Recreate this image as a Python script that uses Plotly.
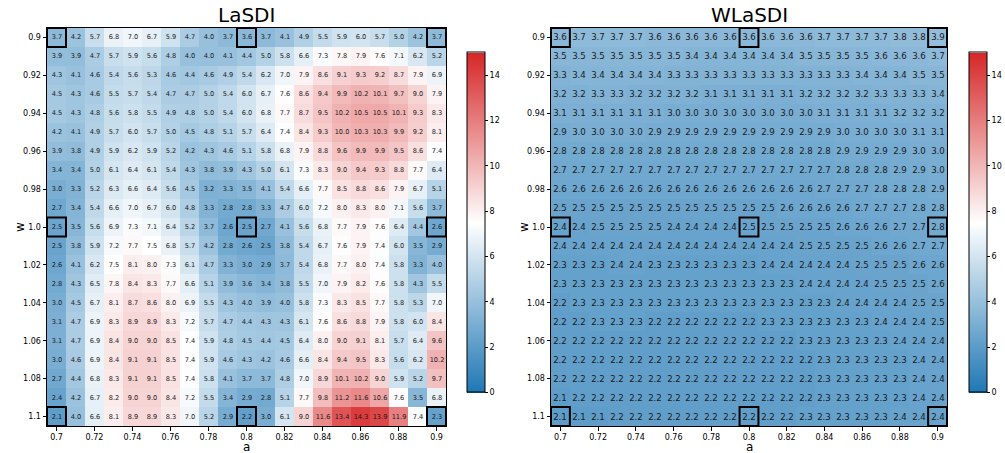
import plotly.graph_objects as go

a_values = [0.70, 0.71, 0.72, 0.73, 0.74, 0.75, 0.76, 0.77, 0.78, 0.79, 0.80,
            0.81, 0.82, 0.83, 0.84, 0.85, 0.86, 0.87, 0.88, 0.89, 0.90]
w_values = [0.90, 0.91, 0.92, 0.93, 0.94, 0.95, 0.96, 0.97, 0.98, 0.99, 1.00,
            1.01, 1.02, 1.03, 1.04, 1.05, 1.06, 1.07, 1.08, 1.09, 1.10]

x_tickvals = [0.70, 0.72, 0.74, 0.76, 0.78, 0.80, 0.82, 0.84, 0.86, 0.88, 0.90]
x_ticktext = ["0.7", "0.72", "0.74", "0.76", "0.78", "0.8", "0.82", "0.84", "0.86", "0.88", "0.9"]
y_tickvals = [0.90, 0.92, 0.94, 0.96, 0.98, 1.00, 1.02, 1.04, 1.06, 1.08, 1.10]
y_ticktext = ["0.9", "0.92", "0.94", "0.96", "0.98", "1.0", "1.02", "1.04", "1.06", "1.08", "1.1"]
cbar_ticks = [0, 2, 4, 6, 8, 10, 12, 14]

highlight_a = [0.70, 0.80, 0.90]
highlight_w = [0.90, 1.00, 1.10]

lasdi = [
    [3.7, 4.2, 5.7, 6.8, 7.0, 6.7, 5.9, 4.7, 4.0, 3.7, 3.6, 3.7, 4.1, 4.9, 5.5, 5.9, 6.0, 5.7, 5.0, 4.2, 3.7],
    [3.9, 3.9, 4.7, 5.7, 5.9, 5.6, 4.8, 4.0, 4.0, 4.1, 4.4, 5.0, 5.8, 6.6, 7.3, 7.8, 7.9, 7.6, 7.1, 6.2, 5.2],
    [4.3, 4.1, 4.6, 5.4, 5.6, 5.3, 4.6, 4.4, 4.6, 4.9, 5.4, 6.2, 7.0, 7.9, 8.6, 9.1, 9.3, 9.2, 8.7, 7.9, 6.9],
    [4.5, 4.3, 4.6, 5.5, 5.7, 5.4, 4.7, 4.7, 5.0, 5.4, 6.0, 6.7, 7.6, 8.6, 9.4, 9.9, 10.2, 10.1, 9.7, 9.0, 7.9],
    [4.5, 4.3, 4.8, 5.6, 5.8, 5.5, 4.9, 4.8, 5.0, 5.4, 6.0, 6.8, 7.7, 8.7, 9.5, 10.2, 10.5, 10.5, 10.1, 9.3, 8.3],
    [4.2, 4.1, 4.9, 5.7, 6.0, 5.7, 5.0, 4.5, 4.8, 5.1, 5.7, 6.4, 7.4, 8.4, 9.3, 10.0, 10.3, 10.3, 9.9, 9.2, 8.1],
    [3.9, 3.8, 4.9, 5.9, 6.2, 5.9, 5.2, 4.2, 4.3, 4.6, 5.1, 5.8, 6.8, 7.9, 8.8, 9.6, 9.9, 9.9, 9.5, 8.6, 7.4],
    [3.4, 3.4, 5.0, 6.1, 6.4, 6.1, 5.4, 4.3, 3.8, 3.9, 4.3, 5.0, 6.1, 7.3, 8.3, 9.0, 9.4, 9.3, 8.8, 7.7, 6.4],
    [3.0, 3.3, 5.2, 6.3, 6.6, 6.4, 5.6, 4.5, 3.2, 3.3, 3.5, 4.1, 5.4, 6.6, 7.7, 8.5, 8.8, 8.6, 7.9, 6.7, 5.1],
    [2.7, 3.4, 5.4, 6.6, 7.0, 6.7, 6.0, 4.8, 3.3, 2.8, 2.8, 3.3, 4.7, 6.0, 7.2, 8.0, 8.3, 8.0, 7.1, 5.6, 3.7],
    [2.5, 3.5, 5.6, 6.9, 7.3, 7.1, 6.4, 5.2, 3.7, 2.6, 2.5, 2.7, 4.1, 5.6, 6.8, 7.7, 7.9, 7.6, 6.4, 4.4, 2.6],
    [2.5, 3.8, 5.9, 7.2, 7.7, 7.5, 6.8, 5.7, 4.2, 2.8, 2.6, 2.5, 3.8, 5.4, 6.7, 7.6, 7.9, 7.4, 6.0, 3.5, 2.9],
    [2.6, 4.1, 6.2, 7.5, 8.1, 8.0, 7.3, 6.1, 4.7, 3.3, 3.0, 2.9, 3.7, 5.4, 6.8, 7.7, 8.0, 7.4, 5.8, 3.3, 4.0],
    [2.8, 4.3, 6.5, 7.8, 8.4, 8.3, 7.7, 6.6, 5.1, 3.9, 3.6, 3.4, 3.8, 5.5, 7.0, 7.9, 8.2, 7.6, 5.8, 4.3, 5.5],
    [3.0, 4.5, 6.7, 8.1, 8.7, 8.6, 8.0, 6.9, 5.5, 4.3, 4.0, 3.9, 4.0, 5.8, 7.3, 8.3, 8.5, 7.7, 5.8, 5.3, 7.0],
    [3.1, 4.7, 6.9, 8.3, 8.9, 8.9, 8.3, 7.2, 5.7, 4.7, 4.4, 4.3, 4.3, 6.1, 7.6, 8.6, 8.8, 7.9, 5.8, 6.0, 8.4],
    [3.1, 4.7, 6.9, 8.4, 9.0, 9.0, 8.5, 7.4, 5.9, 4.8, 4.5, 4.4, 4.5, 6.4, 8.0, 9.0, 9.1, 8.1, 5.7, 6.4, 9.6],
    [3.0, 4.6, 6.9, 8.4, 9.1, 9.1, 8.5, 7.4, 5.9, 4.6, 4.3, 4.2, 4.6, 6.6, 8.4, 9.4, 9.5, 8.3, 5.6, 6.2, 10.2],
    [2.7, 4.4, 6.8, 8.3, 9.1, 9.1, 8.5, 7.4, 5.8, 4.1, 3.7, 3.7, 4.8, 7.0, 8.9, 10.1, 10.2, 9.0, 5.9, 5.2, 9.7],
    [2.4, 4.2, 6.7, 8.2, 9.0, 9.0, 8.4, 7.2, 5.5, 3.4, 2.9, 2.8, 5.1, 7.7, 9.8, 11.2, 11.6, 10.6, 7.6, 3.5, 6.8],
    [2.1, 4.0, 6.6, 8.1, 8.9, 8.9, 8.3, 7.0, 5.2, 2.9, 2.2, 3.0, 6.1, 9.0, 11.6, 13.4, 14.3, 13.9, 11.9, 7.4, 2.3],
]

wlasdi = [
    [3.6, 3.7, 3.7, 3.7, 3.7, 3.6, 3.6, 3.6, 3.6, 3.6, 3.6, 3.6, 3.6, 3.6, 3.7, 3.7, 3.7, 3.7, 3.8, 3.8, 3.9],
    [3.5, 3.5, 3.5, 3.5, 3.5, 3.5, 3.5, 3.4, 3.4, 3.4, 3.4, 3.4, 3.4, 3.5, 3.5, 3.5, 3.5, 3.6, 3.6, 3.6, 3.7],
    [3.3, 3.4, 3.4, 3.4, 3.4, 3.4, 3.3, 3.3, 3.3, 3.3, 3.3, 3.3, 3.3, 3.3, 3.3, 3.3, 3.4, 3.4, 3.4, 3.5, 3.5],
    [3.2, 3.2, 3.3, 3.3, 3.2, 3.2, 3.2, 3.2, 3.1, 3.1, 3.1, 3.1, 3.1, 3.2, 3.2, 3.2, 3.2, 3.3, 3.3, 3.3, 3.4],
    [3.1, 3.1, 3.1, 3.1, 3.1, 3.1, 3.0, 3.0, 3.0, 3.0, 3.0, 3.0, 3.0, 3.0, 3.1, 3.1, 3.1, 3.1, 3.2, 3.2, 3.2],
    [2.9, 3.0, 3.0, 3.0, 3.0, 2.9, 2.9, 2.9, 2.9, 2.9, 2.9, 2.9, 2.9, 2.9, 2.9, 3.0, 3.0, 3.0, 3.0, 3.1, 3.1],
    [2.8, 2.8, 2.8, 2.8, 2.8, 2.8, 2.8, 2.8, 2.8, 2.8, 2.8, 2.8, 2.8, 2.8, 2.8, 2.9, 2.9, 2.9, 2.9, 3.0, 3.0],
    [2.7, 2.7, 2.7, 2.7, 2.7, 2.7, 2.7, 2.7, 2.7, 2.7, 2.7, 2.7, 2.7, 2.7, 2.7, 2.8, 2.8, 2.8, 2.9, 2.9, 3.0],
    [2.6, 2.6, 2.6, 2.6, 2.6, 2.6, 2.6, 2.6, 2.6, 2.6, 2.6, 2.6, 2.6, 2.6, 2.7, 2.7, 2.7, 2.8, 2.8, 2.8, 2.9],
    [2.5, 2.5, 2.5, 2.5, 2.5, 2.5, 2.5, 2.5, 2.5, 2.5, 2.5, 2.5, 2.6, 2.6, 2.6, 2.6, 2.7, 2.7, 2.7, 2.8, 2.8],
    [2.4, 2.4, 2.5, 2.5, 2.5, 2.5, 2.4, 2.4, 2.4, 2.4, 2.5, 2.5, 2.5, 2.5, 2.5, 2.6, 2.6, 2.6, 2.7, 2.7, 2.8],
    [2.4, 2.4, 2.4, 2.4, 2.4, 2.4, 2.4, 2.4, 2.4, 2.4, 2.4, 2.4, 2.4, 2.5, 2.5, 2.5, 2.5, 2.6, 2.6, 2.7, 2.7],
    [2.3, 2.3, 2.3, 2.4, 2.4, 2.3, 2.3, 2.3, 2.3, 2.3, 2.3, 2.4, 2.4, 2.4, 2.4, 2.4, 2.5, 2.5, 2.5, 2.6, 2.6],
    [2.3, 2.3, 2.3, 2.3, 2.3, 2.3, 2.3, 2.3, 2.3, 2.3, 2.3, 2.3, 2.3, 2.4, 2.4, 2.4, 2.4, 2.5, 2.5, 2.5, 2.6],
    [2.2, 2.3, 2.3, 2.3, 2.3, 2.3, 2.3, 2.3, 2.3, 2.3, 2.3, 2.3, 2.3, 2.3, 2.3, 2.4, 2.4, 2.4, 2.4, 2.5, 2.5],
    [2.2, 2.2, 2.3, 2.3, 2.3, 2.2, 2.2, 2.2, 2.2, 2.2, 2.2, 2.3, 2.3, 2.3, 2.3, 2.3, 2.3, 2.4, 2.4, 2.4, 2.5],
    [2.2, 2.2, 2.2, 2.2, 2.2, 2.2, 2.2, 2.2, 2.2, 2.2, 2.2, 2.2, 2.2, 2.3, 2.3, 2.3, 2.3, 2.3, 2.4, 2.4, 2.4],
    [2.2, 2.2, 2.2, 2.2, 2.2, 2.2, 2.2, 2.2, 2.2, 2.2, 2.2, 2.2, 2.2, 2.2, 2.3, 2.3, 2.3, 2.3, 2.3, 2.4, 2.4],
    [2.2, 2.2, 2.2, 2.2, 2.2, 2.2, 2.2, 2.2, 2.2, 2.2, 2.2, 2.2, 2.2, 2.2, 2.3, 2.3, 2.3, 2.3, 2.3, 2.4, 2.4],
    [2.1, 2.2, 2.2, 2.2, 2.2, 2.2, 2.2, 2.2, 2.2, 2.2, 2.2, 2.2, 2.2, 2.2, 2.3, 2.3, 2.3, 2.3, 2.3, 2.4, 2.4],
    [2.1, 2.1, 2.1, 2.2, 2.2, 2.2, 2.2, 2.2, 2.2, 2.2, 2.2, 2.2, 2.2, 2.3, 2.3, 2.3, 2.3, 2.3, 2.4, 2.4, 2.4],
]

W, H = 1005, 453
FONT = "DejaVu Sans"
colorscale = [[0.0, "#1f77b4"], [0.5, "#ffffff"], [1.0, "#d62728"]]


def px_x(p):
    return p / W


def px_y(p):
    return 1 - p / H


panels = [
    dict(name="LaSDI", z=lasdi, xa="x", ya="y", left=47, right=446, cb_left=467, txt=6.6),
    dict(name="WLaSDI", z=wlasdi, xa="x2", ya="y2", left=551, right=947, cb_left=969, txt=8.6),
]
top, bottom = 28, 426
cb_top, cb_bottom = 52.5, 392.5

fig = go.Figure()
annotations = []
shapes = []
for i, p in enumerate(panels):
    text = [[f"{v:.1f}" for v in row] for row in p["z"]]
    fig.add_trace(go.Heatmap(
        x=a_values, y=w_values, z=p["z"], text=text, texttemplate="%{text}",
        textfont=dict(family=FONT, size=p["txt"], color="#1a1a1a"),
        colorscale=colorscale, zmin=0, zmax=15,
        xaxis=p["xa"], yaxis=p["ya"],
        colorbar=dict(
            x=px_x(p["cb_left"]), xanchor="left", xpad=0, ypad=0,
            y=px_y((cb_top + cb_bottom) / 2), yanchor="middle",
            len=cb_bottom - cb_top, lenmode="pixels",
            thickness=18, thicknessmode="pixels",
            outlinewidth=1, outlinecolor="black",
            tickvals=cbar_ticks, ticks="outside", ticklen=3, tickcolor="black",
            tickfont=dict(family=FONT, size=8, color="black"),
        ),
    ))
    sfx = "" if i == 0 else "2"
    common = dict(showline=True, mirror=True, linecolor="black", linewidth=1,
                  ticks="outside", ticklen=3.5, tickcolor="black", showgrid=False,
                  zeroline=False, automargin=False,
                  tickfont=dict(family=FONT, size=8, color="black"))
    fig.update_layout(**{
        "xaxis" + sfx: dict(domain=[px_x(p["left"]), px_x(p["right"])], range=[0.695, 0.905],
                            tickvals=x_tickvals, ticktext=x_ticktext, anchor="y" + sfx, **common),
        "yaxis" + sfx: dict(domain=[px_y(bottom), px_y(top)], range=[1.105, 0.895],
                            tickvals=y_tickvals, ticktext=y_ticktext, anchor="x" + sfx, **common),
    })
    cx = (p["left"] + p["right"]) / 2
    annotations.append(dict(text=p["name"], x=px_x(cx), y=px_y(15), xref="paper", yref="paper",
                            showarrow=False, xanchor="center", yanchor="middle",
                            font=dict(family=FONT, size=20, color="black")))
    annotations.append(dict(text="a", x=px_x(cx), y=px_y(447), xref="paper", yref="paper",
                            showarrow=False, xanchor="center", yanchor="middle",
                            font=dict(family=FONT, size=12, color="black")))
    annotations.append(dict(text="w", x=px_x(p["left"] - 27), y=px_y((top + bottom) / 2), xref="paper",
                            yref="paper", showarrow=False, textangle=-90, xanchor="center",
                            yanchor="middle", font=dict(family=FONT, size=12, color="black")))
    for ha in highlight_a:
        for hw in highlight_w:
            shapes.append(dict(type="rect", xref=p["xa"], yref=p["ya"],
                               x0=ha - 0.005, x1=ha + 0.005, y0=hw - 0.005, y1=hw + 0.005,
                               line=dict(color="black", width=2), fillcolor="rgba(0,0,0,0)"))

fig.update_layout(width=W, height=H, margin=dict(l=0, r=0, t=0, b=0, autoexpand=False),
                  paper_bgcolor="white", plot_bgcolor="white",
                  annotations=annotations, shapes=shapes, showlegend=False)
fig.write_html("out.html", config={"displayModeBar": False},
               post_script="document.body.style.margin='0';document.body.style.overflow='hidden';")
